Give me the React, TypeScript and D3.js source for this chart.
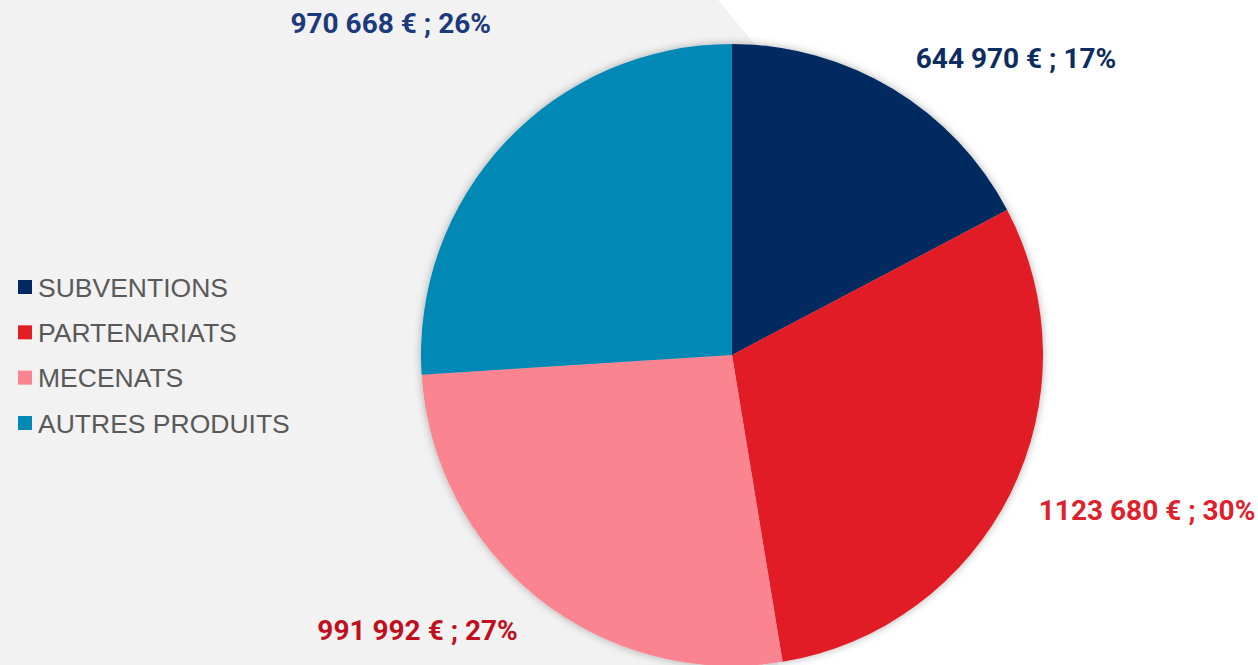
import React, { useRef, useEffect } from "react";
import * as d3 from "d3";

export const categories = ["SUBVENTIONS", "PARTENARIATS", "MECENATS", "AUTRES PRODUITS"];
export const amounts = [644970, 1123680, 991992, 970668];
export const amountLabels = ["644 970 €", "1123 680 €", "991 992 €", "970 668 €"];
export const percentLabels = ["17%", "30%", "27%", "26%"];

const sliceColors = ["#012a61", "#e11f25", "#fb8491", "#0089b5"];
const labelColors = ["#0d2c60", "#e0202a", "#c0101e", "#1c3a7c"];
// manual nudges of the data labels, like the ones dragged in the original
const labelNudge: [number, number][] = [
  [67, 62],
  [39, -32],
  [-53, -54],
  [-35, -45],
];

const App = () => {
  const ref = useRef<SVGSVGElement>(null);

  useEffect(() => {
    document.body.style.margin = "0";
    const width = 1258;
    const height = 665;
    const cx = 732;
    const cy = 355;
    const radius = 311;

    const svg = d3.select(ref.current).attr("width", width).attr("height", height);
    svg.selectAll("*").remove();

    svg.append("rect").attr("width", width).attr("height", height).attr("fill", "#ffffff");
    svg
      .append("polygon")
      .attr("points", "0,0 718,0 768,60 778,665 0,665")
      .attr("fill", "#f2f2f2");

    const defs = svg.append("defs");
    defs
      .append("filter")
      .attr("id", "shadow")
      .attr("x", "-20%")
      .attr("y", "-20%")
      .attr("width", "140%")
      .attr("height", "140%")
      .append("feDropShadow")
      .attr("dx", 0)
      .attr("dy", 0)
      .attr("stdDeviation", 4)
      .attr("flood-color", "#000")
      .attr("flood-opacity", 0.3);

    const pie = d3
      .pie<number>()
      .sort(null)
      .value((d) => d);
    const arcs = pie(amounts);

    const arc = d3.arc<d3.PieArcDatum<number>>().innerRadius(0).outerRadius(radius);
    const labelArc = d3.arc<d3.PieArcDatum<number>>().innerRadius(420).outerRadius(420);

    const g = svg.append("g").attr("transform", `translate(${cx}, ${cy})`);

    g.append("g")
      .attr("filter", "url(#shadow)")
      .selectAll("path")
      .data(arcs)
      .enter()
      .append("path")
      .attr("d", arc)
      .attr("fill", (d, i) => sliceColors[i]);

    g.selectAll("text.lbl")
      .data(arcs)
      .enter()
      .append("text")
      .attr("class", "lbl")
      .attr("transform", (d, i) => {
        const [x, y] = labelArc.centroid(d);
        return `translate(${x + labelNudge[i][0]}, ${y + labelNudge[i][1]})`;
      })
      .attr("text-anchor", "middle")
      .attr("dy", "0.36em")
      .style("font-family", "Roboto, sans-serif")
      .style("font-weight", "bold")
      .style("font-size", "28px")
      .attr("fill", (d, i) => labelColors[i])
      .text((d, i) => `${amountLabels[i]} ; ${percentLabels[i]}`);

    // legend
    const y = d3.scalePoint<string>().domain(categories).range([287, 423]);
    const legend = svg
      .append("g")
      .selectAll("g")
      .data(categories)
      .enter()
      .append("g")
      .attr("transform", (d) => `translate(18, ${y(d)})`);

    legend
      .append("rect")
      .attr("x", 0)
      .attr("y", -7)
      .attr("width", 14)
      .attr("height", 14)
      .attr("fill", (d, i) => sliceColors[i]);

    legend
      .append("text")
      .attr("x", 20)
      .attr("dy", "0.36em")
      .style("font-family", "'Liberation Sans', Arial, sans-serif")
      .style("font-size", "26.5px")
      .attr("fill", "#595959")
      .text((d) => d);
  }, []);

  return <svg ref={ref} style={{ display: "block" }}></svg>;
};

export default App;
